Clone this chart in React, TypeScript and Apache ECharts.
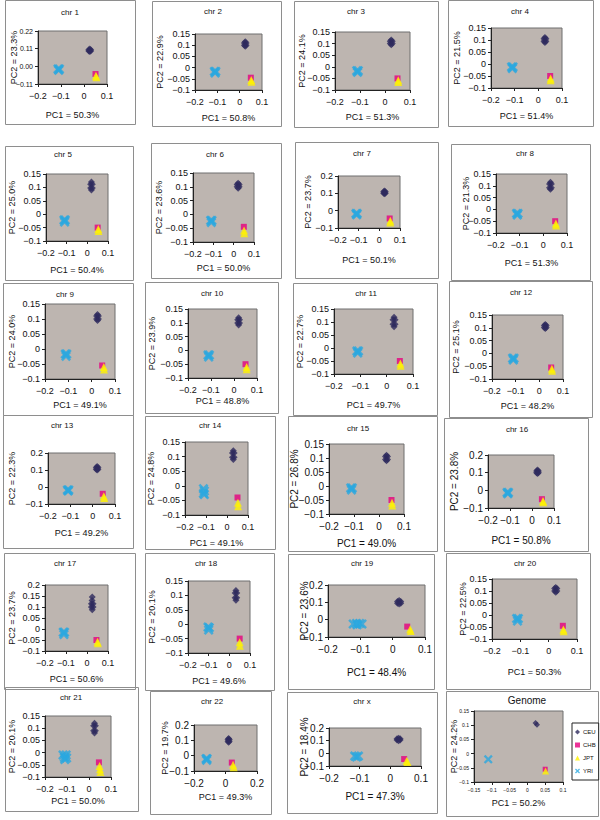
import React, { useEffect, useRef } from "react";
import * as echarts from "echarts";

// ---------- DATA ----------
const titles = ["chr 1","chr 2","chr 3","chr 4","chr 5","chr 6","chr 7","chr 8","chr 9","chr 10","chr 11","chr 12","chr 13","chr 14","chr 15","chr 16","chr 17","chr 18","chr 19","chr 20","chr 21","chr 22","chr x","Genome"];
const pc1Pct = ["50.3","50.8","51.3","51.4","50.4","50.0","50.1","51.3","49.1","48.8","49.7","48.2","49.2","49.1","49.0","50.8","50.6","49.6","48.4","50.3","50.0","49.3","47.3","50.2"];
const pc2Pct = ["23.3","22.9","24.1","21.5","25.0","23.6","23.7","21.3","24.0","23.9","22.7","25.1","22.3","24.8","26.8","23.8","23.7","20.1","23.6","22.5","20.1","19.7","18.4","24.2"];

// [min, max, interval]
const xRanges = [
  [-0.2,0.1,0.1],[-0.2,0.1,0.1],[-0.2,0.1,0.1],[-0.2,0.1,0.1],
  [-0.2,0.1,0.1],[-0.2,0.1,0.1],[-0.2,0.1,0.1],[-0.2,0.1,0.1],
  [-0.2,0.1,0.1],[-0.2,0.1,0.1],[-0.2,0.1,0.1],[-0.2,0.1,0.1],
  [-0.2,0.1,0.1],[-0.2,0.1,0.1],[-0.2,0.1,0.1],[-0.2,0.1,0.1],
  [-0.2,0.1,0.1],[-0.2,0.1,0.1],[-0.2,0.1,0.1],[-0.2,0.1,0.1],
  [-0.2,0.1,0.1],[-0.2,0.2,0.2],[-0.2,0.1,0.1],[-0.15,0.1,0.05],
];
const yRanges = [
  [-0.11,0.22,0.11],[-0.1,0.15,0.05],[-0.1,0.15,0.05],[-0.1,0.15,0.05],
  [-0.1,0.15,0.05],[-0.1,0.15,0.05],[-0.1,0.2,0.1],[-0.1,0.15,0.05],
  [-0.1,0.15,0.05],[-0.1,0.15,0.05],[-0.1,0.15,0.05],[-0.1,0.15,0.05],
  [-0.1,0.2,0.1],[-0.1,0.15,0.05],[-0.1,0.15,0.05],[-0.1,0.2,0.1],
  [-0.1,0.2,0.05],[-0.1,0.15,0.05],[-0.1,0.2,0.1],[-0.1,0.15,0.05],
  [-0.1,0.15,0.05],[-0.1,0.2,0.1],[-0.1,0.2,0.1],[-0.1,0.15,0.05],
];
const yLabelDigits = [2,null,null,null,null,null,null,null,null,null,null,null,null,null,null,null,null,null,null,null,null,null,null,null];

const ceu = [
  [[.025,.108],[.021,.104],[.029,.104],[.021,.096],[.029,.096],[.025,.092]],
  [[.025,.115],[.021,.11],[.029,.11],[.021,.1],[.029,.1],[.025,.095]],
  [[.025,.115],[.021,.11],[.029,.11],[.021,.1],[.029,.1],[.025,.095]],
  [[.028,.11],[.024,.105],[.032,.105],[.024,.095],[.032,.095],[.028,.09]],
  [[.02,.12],[.016,.112],[.024,.112],[.016,.098],[.024,.098],[.02,.09]],
  [[.022,.113],[.017,.108],[.027,.108],[.017,.1],[.027,.1],[.022,.095]],
  [[.025,.113],[.021,.109],[.029,.109],[.021,.101],[.029,.101],[.025,.097]],
  [[.03,.115],[.026,.108],[.034,.108],[.026,.092],[.034,.092],[.03,.085]],
  [[.025,.115],[.021,.11],[.029,.11],[.021,.1],[.029,.1],[.025,.095]],
  [[.02,.118],[.016,.111],[.024,.111],[.016,.099],[.024,.099],[.02,.092]],
  [[.028,.118],[.024,.109],[.032,.109],[.024,.091],[.032,.091],[.028,.082]],
  [[.025,.113],[.021,.109],[.029,.109],[.021,.101],[.029,.101],[.025,.097]],
  [[.02,.12],[.016,.115],[.024,.115],[.016,.105],[.024,.105],[.02,.1]],
  [[.03,.12],[.026,.112],[.034,.112],[.026,.098],[.034,.098],[.03,.09]],
  [[.03,.11],[.026,.105],[.034,.105],[.026,.095],[.034,.095],[.03,.09]],
  [[.025,.115],[.021,.11],[.029,.11],[.021,.1],[.029,.1],[.025,.095]],
  [[.025,.145],[.024,.13],[.021,.115],[.029,.115],[.021,.1],[.029,.1],[.025,.088]],
  [[.032,.117],[.028,.108],[.036,.108],[.028,.092],[.036,.092],[.032,.083]],
  [[.02,.11],[.015,.105],[.025,.105],[.015,.095],[.025,.095],[.02,.09]],
  [[.025,.115],[.021,.11],[.029,.11],[.021,.1],[.029,.1],[.025,.095]],
  [[.025,.12],[.021,.11],[.029,.11],[.021,.09],[.029,.09],[.025,.08]],
  [[.02,.112],[.016,.106],[.024,.106],[.016,.094],[.024,.094],[.02,.088]],
  [[.027,.12],[.022,.115],[.032,.115],[.022,.105],[.032,.105],[.027,.1]],
  [[.023,.108],[.027,.102]],
];
const chb = [
  [[.05,-.048]],[[.05,-.045]],[[.05,-.05]],[[.05,-.05]],
  [[.05,-.05]],[[.05,-.045]],[[.05,-.045]],[[.05,-.05]],
  [[.045,-.055]],[[.05,-.05]],[[.05,-.05]],[[.05,-.055]],
  [[.045,-.04]],[[.05,-.04]],[[.05,-.05]],[[.045,-.05]],
  [[.045,-.05]],[[.05,-.05]],[[.045,-.04]],[[.05,-.045]],
  [[.045,-.04]],[[.04,-.045]],[[.045,-.045]],[[.05,-.055]],
];
const jpt = [
  [[.052,-.058],[.054,-.068]],[[.052,-.055],[.053,-.063]],[[.053,-.058],[.053,-.066]],[[.052,-.06],[.052,-.068]],
  [[.053,-.055],[.054,-.063]],[[.051,-.058],[.052,-.068]],[[.053,-.058],[.053,-.068]],[[.053,-.06],[.054,-.068]],
  [[.052,-.06],[.053,-.068]],[[.055,-.06],[.055,-.068]],[[.052,-.06],[.053,-.068]],[[.053,-.06],[.054,-.068]],
  [[.05,-.055],[.052,-.065]],[[.052,-.058],[.053,-.07]],[[.052,-.06],[.053,-.07]],[[.05,-.06],[.051,-.068]],
  [[.05,-.058],[.052,-.065]],[[.05,-.063],[.051,-.075]],[[.054,-.055],[.056,-.065]],[[.052,-.06],[.053,-.068]],
  [[.048,-.055],[.05,-.068],[.052,-.08]],[[.048,-.06],[.052,-.075]],[[.053,-.06],[.056,-.068]],[[.051,-.061]],
];
const yri = [
  [[-.113,-.017],[-.107,-.017],[-.11,-.024]],
  [[-.113,-.017],[-.107,-.017],[-.11,-.024]],
  [[-.113,-.017],[-.107,-.017],[-.11,-.024]],
  [[-.113,-.012],[-.107,-.012],[-.11,-.019]],
  [[-.113,-.022],[-.107,-.022],[-.11,-.029]],
  [[-.113,-.022],[-.107,-.022],[-.11,-.029]],
  [[-.113,-.017],[-.107,-.017],[-.11,-.024]],
  [[-.113,-.017],[-.107,-.017],[-.11,-.024]],
  [[-.113,-.017],[-.107,-.017],[-.11,-.024]],
  [[-.113,-.017],[-.107,-.017],[-.11,-.024]],
  [[-.113,-.012],[-.107,-.012],[-.11,-.019]],
  [[-.113,-.019],[-.107,-.019],[-.11,-.026]],
  [[-.113,-.017],[-.107,-.017],[-.11,-.024]],
  [[-.112,-.01],[-.108,-.018],[-.112,-.026],[-.108,-.03]],
  [[-.113,-.007],[-.107,-.007],[-.11,-.014]],
  [[-.113,-.012],[-.107,-.012],[-.11,-.019]],
  [[-.113,-.015],[-.107,-.015],[-.11,-.025]],
  [[-.103,-.01],[-.097,-.012],[-.1,-.02]],
  [[-.122,-.025],[-.112,-.022],[-.102,-.022],[-.095,-.025],[-.11,-.03]],
  [[-.113,-.015],[-.107,-.015],[-.11,-.025]],
  [[-.118,-.01],[-.104,-.01],[-.112,-.02],[-.102,-.022],[-.11,-.028]],
  [[-.123,-.02],[-.117,-.02],[-.12,-.03]],
  [[-.116,-.022],[-.104,-.022],[-.11,-.029]],
  [[-.11,-.02]],
];

// ---------- LAYOUT ----------
const boxes = [
  [5,0,130,124],[152,1,129,125],[294,1,144,126],[448,0,145,126],
  [5,146,128,134],[151,143,130,135],[295,142,143,136],[451,144,139,136],
  [3,283,130,132],[145,282,133,131],[293,283,144,132],[449,281,143,136],
  [3,415,130,133],[145,416,130,133],[288,416,149,135],[444,418,144,133],
  [4,553,131,136],[145,553,129,137],[288,554,146,135],[446,553,144,136],
  [5,687,133,124],[150,691,121,123],[287,692,150,121],[446,691,152,125],
];
const grids = [
  [38,31,69,53],[195,34,67,56],[335,32,75,58],[491,28,71,60],
  [46,174,62,67],[193,173,61,69],[338,176,62,52],[496,174,71,59],
  [45,304,70,75],[188,309,69,69],[334,309,79,65],[492,315,71,64],
  [48,453,67,51],[185,442,63,73],[329,444,75,70],[488,455,66,53],
  [45,585,63,66],[188,581,62,72],[328,585,97,52],[492,579,85,60],
  [45,716,66,61],[194,725,63,46],[329,728,92,38],[474,711,89,71],
];
const titlePos = [
  [70,12],[213,11],[356,11],[520,11],
  [63,154],[215,154],[362,153],[525,153],
  [65,294],[212,293],[366,293],[521,292],
  [62,425],[210,425],[358,428],[517,429],
  [65,563],[206,563],[362,563],[525,563],
  [71,697],[212,701],[362,701],[527,700],
];
const pc1Y = [115,118,117,116,270,268,260,263,405,401,405,406,533,543,543,540,679,681,672,672,801,797,796,803];
const pc2X = [14,160,302,457,12,159,308,466,12,152,300,456,12,151,294,454,12,152,304,463,12,165,304,454];
const tickFs = [9,9,9,9,9,9,9,9,9,9,9,9,9,9,10,10,9,9,10,9,9,10,10,5];
const nameFs = [9,9,9,9,9,9,9,9,9,9,9,9,9,9,10,10,9,9,10,9,9,9,10,9];

const FONT = "'Liberation Sans', Arial, sans-serif";
const PLOT_BG = "#BDB5B0";
const X_PATH = "path://M0,1.8L1.8,0L5,3.2L8.2,0L10,1.8L6.8,5L10,8.2L8.2,10L5,6.8L1.8,10L0,8.2L3.2,5Z";
const pops = [
  { name: "CEU", symbol: "diamond", size: 7, color: "#2E2B5E", data: ceu },
  { name: "CHB", symbol: "rect", size: 6, color: "#E6007E", data: chb },
  { name: "JPT", symbol: "triangle", size: 8, color: "#FFF200", data: jpt },
  { name: "YRI", symbol: X_PATH, size: 10, color: "#29A8E0", data: yri },
];

function fmt(v: number, digits: number | null) {
  const s = digits != null ? v.toFixed(digits) : String(+v.toFixed(4));
  return s.replace("-", "\u2212");
}

function buildOption() {
  const grid: any[] = [];
  const xAxis: any[] = [];
  const yAxis: any[] = [];
  const series: any[] = [];
  const graphic: any[] = [];
  titles.forEach((t, i) => {
    const [gl, gt, gw, gh] = grids[i];
    const [bx, by, bw, bh] = boxes[i];
    const isG = i === titles.length - 1;
    const nf = nameFs[i];
    const tf = tickFs[i];
    graphic.push({
      type: "rect", silent: true, z: -1,
      shape: { x: bx + 0.5, y: by + 0.5, width: bw, height: bh },
      style: { fill: "none", stroke: "#8E8E8E", lineWidth: 1 },
    });
    graphic.push({
      type: "text", silent: true, x: titlePos[i][0], y: titlePos[i][1],
      style: { text: t, fontSize: isG ? 10 : 8, fontFamily: FONT, fontWeight: "normal", fill: "#111", textAlign: "center", textVerticalAlign: "middle" },
    });
    graphic.push({
      type: "text", silent: true, x: gl + gw / 2, y: pc1Y[i],
      style: { text: `PC1 = ${pc1Pct[i]}%`, fontSize: nf, fontFamily: FONT, fontWeight: "normal", fill: "#111", textAlign: "center", textVerticalAlign: "middle" },
    });
    graphic.push({
      type: "text", silent: true, x: pc2X[i], y: gt + gh / 2, rotation: Math.PI / 2,
      style: { text: `PC2 = ${pc2Pct[i]}%`, fontSize: nf, fontFamily: FONT, fontWeight: "normal", fill: "#111", textAlign: "center", textVerticalAlign: "middle" },
    });
    grid.push({
      left: gl, top: gt, width: gw, height: gh, show: true,
      backgroundColor: PLOT_BG, borderColor: "#6F6F6F", borderWidth: 1,
      containLabel: false, outerBoundsMode: "none",
    });
    const axisCommon = {
      type: "value", gridIndex: i,
      axisLine: { show: true, onZero: false, lineStyle: { color: "#222", width: 1 } },
      axisTick: { show: true, inside: false, length: 3, lineStyle: { color: "#222" } },
      splitLine: { show: false },
    };
    const [x0, x1, xi] = xRanges[i];
    xAxis.push({
      ...axisCommon, min: x0, max: x1, interval: xi,
      axisLabel: { fontSize: tf, fontFamily: FONT, color: "#111", margin: isG ? 5 : 7, hideOverlap: false, showMinLabel: true, showMaxLabel: true, formatter: (v: number) => fmt(v, null) },
    });
    const [y0, y1, yi] = yRanges[i];
    const yfs = i === 0 ? 7 : tf;
    yAxis.push({
      ...axisCommon, min: y0, max: y1, interval: yi,
      axisLabel: { fontSize: yfs, fontFamily: FONT, color: "#111", margin: 5, hideOverlap: false, showMinLabel: true, showMaxLabel: true, formatter: (v: number) => fmt(v, yLabelDigits[i]) },
    });
    pops.forEach((p) => {
      series.push({
        type: "scatter", name: p.name, xAxisIndex: i, yAxisIndex: i,
        symbol: p.symbol, symbolSize: isG ? p.size - 1 : p.size,
        itemStyle: { color: p.color }, silent: true,
        emphasis: { disabled: true },
        data: p.data[i],
      });
    });
  });
  return {
    animation: false,
    backgroundColor: "#ffffff",
    textStyle: { fontFamily: FONT },
    grid, xAxis, yAxis, series, graphic,
    legend: {
      show: true, orient: "vertical", left: 572, top: 723,
      selectedMode: false,
      data: [
        { name: "CEU", icon: "diamond" },
        { name: "CHB", icon: "rect" },
        { name: "JPT", icon: "triangle" },
        { name: "YRI", icon: X_PATH },
      ],
      itemWidth: 5, itemHeight: 5, itemGap: 7,
      textStyle: { fontSize: 6, fontFamily: FONT, color: "#111", padding: [0, 0, 0, -2] },
      borderColor: "#222", borderWidth: 1, padding: [6, 3, 6, 3],
      backgroundColor: "#fff",
    },
  };
}

export default function App() {
  const ref = useRef<HTMLDivElement>(null);
  useEffect(() => {
    document.body.style.margin = "0";
    const chart = echarts.init(ref.current!, null, { renderer: "svg", width: 600, height: 820 });
    chart.setOption(buildOption() as any);
    return () => chart.dispose();
  }, []);
  return <div ref={ref} style={{ position: "absolute", left: 0, top: 0, width: 600, height: 820, background: "#fff" }} />;
}
